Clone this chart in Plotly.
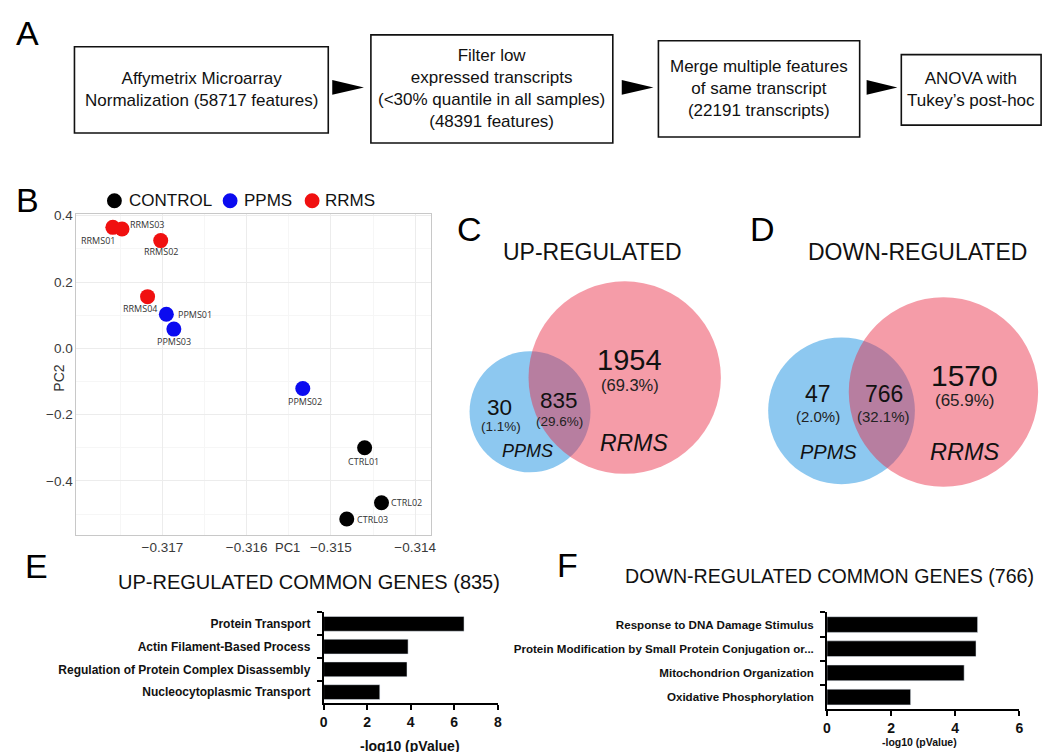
import plotly.graph_objects as go

W, H = 1050, 752


def px(x):
    return x / W


def py(y):
    return 1 - y / H


# ---------------- data ----------------
flow_steps = [
    "Affymetrix Microarray<br>Normalization (58717 features)",
    "Filter low<br>expressed transcripts<br>(&lt;30% quantile in all samples)<br>(48391 features)",
    "Merge multiple features<br>of same transcript<br>(22191 transcripts)",
    "ANOVA with<br>Tukey’s post-hoc",
]

pca_samples = ["CTRL01", "CTRL02", "CTRL03", "PPMS01", "PPMS02", "PPMS03",
               "RRMS01", "RRMS02", "RRMS03", "RRMS04"]
pca_group = ["CONTROL"] * 3 + ["PPMS"] * 3 + ["RRMS"] * 4
pc1 = [-0.314600, -0.314400, -0.314812, -0.316953, -0.315334, -0.316864,
       -0.317588, -0.317020, -0.317479, -0.317176]
pc2 = [-0.300, -0.466, -0.515, 0.103, -0.121, 0.058,
       0.365, 0.325, 0.360, 0.156]
group_names = ["CONTROL", "PPMS", "RRMS"]
group_colors = ["#000000", "#0b0bf0", "#f01010"]

venn_sets = ["PPMS", "RRMS"]
up_counts = [30, 835, 1954]
up_pct = [1.1, 29.6, 69.3]
down_counts = [47, 766, 1570]
down_pct = [2.0, 32.1, 65.9]

up_terms = ["Protein Transport", "Actin Filament-Based Process",
            "Regulation of Protein Complex Disassembly", "Nucleocytoplasmic Transport"]
up_vals = [6.45, 3.88, 3.83, 2.58]
down_terms = ["Response to DNA Damage Stimulus",
              "Protein Modification by Small Protein Conjugation or...",
              "Mitochondrion Organization", "Oxidative Phosphorylation"]
down_vals = [4.70, 4.65, 4.28, 2.61]

# ---------------- fonts ----------------
ARIAL = "Liberation Sans, Arial, sans-serif"
LBL = "Open Sans, DejaVu Sans, sans-serif"

fig = go.Figure()
shapes = []
ann = []


def text(x, y, s, size, family=ARIAL, color="#111", **kw):
    d = dict(x=px(x), y=py(y), xref="paper", yref="paper", text=s, showarrow=False,
             font=dict(size=size, family=family, color=color),
             xanchor=kw.pop("xanchor", "center"), yanchor=kw.pop("yanchor", "middle"))
    d.update(kw)
    ann.append(d)


# ---------------- panel A : flow chart ----------------
boxes = [(63, 33, 319, 120), (362, 21, 606, 130), (652, 27, 855, 124), (897, 41, 1038, 112)]
for (x0, y0, x1, y1), s in zip(boxes, flow_steps):
    shapes.append(dict(type="rect", xref="paper", yref="paper",
                       x0=px(x0), x1=px(x1), y0=py(y1), y1=py(y0),
                       line=dict(color="#111", width=1.6), fillcolor="white"))
    text((x0 + x1) / 2, (y0 + y1) / 2, s, 17, ARIAL, "#111")
for ax0, ax1 in [(323, 355), (615, 647), (862, 893)]:
    yc = 74
    shapes.append(dict(type="path", xref="paper", yref="paper",
                       path=f"M {px(ax0)},{py(yc - 7.5)} L {px(ax1)},{py(yc)} L {px(ax0)},{py(yc + 7.5)} Z",
                       fillcolor="#000", line=dict(width=0)))

# panel letters
for lab, x, y in [("A", 16, 19), ("B", 16, 187), ("C", 461, 217), ("D", 757, 217),
                  ("E", 25, 556), ("F", 560, 555)]:
    text(x, y, lab, 34, ARIAL, "#000")

# ---------------- panel B : PCA ----------------
for g, c in zip(group_names, group_colors):
    idx = [i for i, gg in enumerate(pca_group) if gg == g]
    fig.add_trace(go.Scatter(
        x=[pc1[i] for i in idx], y=[pc2[i] for i in idx], mode="markers", name=g,
        marker=dict(size=15, color=c), showlegend=False, xaxis="x", yaxis="y"))

label_offsets = {  # (anchor, xshift, yshift)
    "CTRL01": ("center", -1, -14), "CTRL02": ("left", 8, 0), "CTRL03": ("left", 8, 0),
    "PPMS01": ("left", 10, 0), "PPMS02": ("center", 2, -13), "PPMS03": ("center", 0, -12),
    "RRMS01": ("center", -15, -13), "RRMS02": ("center", 0, -11), "RRMS03": ("left", 6, 5),
    "RRMS04": ("center", -8, -12),
}
for s, x, y in zip(pca_samples, pc1, pc2):
    a, xs, ys = label_offsets[s]
    ann.append(dict(x=x, y=y, xref="x", yref="y", text=s, showarrow=False,
                    xanchor=a, yanchor="middle", xshift=xs, yshift=ys,
                    font=dict(size=9, family=LBL, color="#333")))

# manual legend
for (cx, tx), g, c in zip([(103.3, 116), (220, 232), (302.7, 314)], group_names, group_colors):
    shapes.append(dict(type="circle", xref="paper", yref="paper",
                       x0=px(cx - 7.5), x1=px(cx + 7.5), y0=py(188.3 + 7.5), y1=py(188.3 - 7.5),
                       fillcolor=c, line=dict(width=0)))
    text(tx, 188.5, g, 17, ARIAL, "#111", xanchor="left")

text(278, 538, "PC1", 13, ARIAL, "#333")
text(47, 367, "PC2", 14, ARIAL, "#333", textangle=-90)

axis_b = dict(showline=True, mirror=True, linecolor="#c8c8c8", linewidth=1,
              showgrid=True, gridcolor="#ececec", gridwidth=1, zeroline=False,
              ticks="", tickfont=dict(size=13.5, family=ARIAL, color="#3a3a3a"))
fig.update_layout(
    xaxis=dict(domain=[px(65), px(423)], range=[-0.31802, -0.313808],
               tickvals=[-0.317, -0.316, -0.315, -0.314],
               minor=dict(showgrid=True, gridcolor="#f6f6f6", tickvals=[-0.3175, -0.3165, -0.3155, -0.3145]),
               anchor="y", **axis_b),
    yaxis=dict(domain=[py(525), py(201.7)], range=[-0.5625, 0.405],
               tickvals=[-0.4, -0.2, 0.0, 0.2, 0.4], tickformat=".1f",
               minor=dict(showgrid=True, gridcolor="#f6f6f6", tickvals=[-0.5, -0.3, -0.1, 0.1, 0.3]),
               anchor="x", **axis_b),
)

# ---------------- panels C & D : Venn diagrams ----------------
BLUE = "rgb(141,200,240)"
RED = "rgb(233,40,66)"


def venn(blue, red, counts, pct, pos, sizes):
    (bx, by, br), (rx, ry, rr) = blue, red
    shapes.append(dict(type="circle", xref="paper", yref="paper",
                       x0=px(bx - br), x1=px(bx + br), y0=py(by + br), y1=py(by - br),
                       fillcolor=BLUE, line=dict(width=0), layer="below"))
    shapes.append(dict(type="circle", xref="paper", yref="paper",
                       x0=px(rx - rr), x1=px(rx + rr), y0=py(ry + rr), y1=py(ry - rr),
                       fillcolor=RED, opacity=0.46, line=dict(width=0), layer="below"))
    for i in range(3):
        (nx, ny), (pxx, pyy) = pos[i]
        ns, ps = sizes[i]
        text(nx, ny, str(counts[i]), ns, ARIAL, "#111")
        text(pxx, pyy, f"({pct[i]:.1f}%)", ps, ARIAL, "#222")


venn((522.5, 401, 61), (618, 366.5, 97), up_counts, up_pct,
     [((491.7, 397), (493.3, 416)), ((551.7, 390), (552.7, 411)), ((623, 349), (623, 374))],
     [(22.5, 13.5), (22.5, 13.5), (29, 16.5)])
text(520, 441, f"<i>{venn_sets[0]}</i>", 18, ARIAL, "#111")
text(627, 432, f"<i>{venn_sets[1]}</i>", 23, ARIAL, "#111")
text(586, 240, "UP-REGULATED", 23, ARIAL, "#111")

venn((836.7, 400, 74), (939.5, 381, 95.5), down_counts, down_pct,
     [((812.7, 383.3), (813.3, 405.3)), ((879.3, 383.3), (879.3, 405.3)), ((961, 364), (961, 389.3))],
     [(23, 15), (23, 15), (30, 17)])
text(823.3, 442, f"<i>{venn_sets[0]}</i>", 20, ARIAL, "#111")
text(961, 442, f"<i>{venn_sets[1]}</i>", 23.5, ARIAL, "#111")
text(913.5, 240, "DOWN-REGULATED", 23, ARIAL, "#111")

# ---------------- panels E & F : GO bars ----------------
fig.add_trace(go.Bar(x=up_vals, y=up_terms, orientation="h", marker=dict(color="#000"),
                     width=0.65, xaxis="x3", yaxis="y3", showlegend=False))
fig.add_trace(go.Bar(x=down_vals, y=down_terms, orientation="h", marker=dict(color="#000"),
                     width=0.65, xaxis="x4", yaxis="y4", showlegend=False))

bar_x = dict(showline=True, linecolor="#000", linewidth=1.6, ticks="outside", ticklen=5,
             tickwidth=1.6, tickcolor="#000", showgrid=False, zeroline=False, dtick=2,
             tickfont=dict(size=14, family=ARIAL, color="#111", weight="bold"))


def bar_y(size):
    return dict(type="category", showline=True, linecolor="#000", linewidth=1.6, ticks="outside",
                ticklen=5, tickwidth=1.6, tickcolor="#000", tickson="boundaries", showgrid=False,
                range=[3.5, -0.5], ticklabelstandoff=9,
                tickfont=dict(size=size, family=ARIAL, color="#111", weight="bold"))


fig.update_layout(
    xaxis3=dict(domain=[px(314.3), px(490)], range=[0, 8], anchor="y3", **bar_x),
    yaxis3=dict(domain=[py(695), py(603.3)], anchor="x3", **bar_y(12)),
    xaxis4=dict(domain=[px(822), px(1016)], range=[0, 6], anchor="y4", **bar_x),
    yaxis4=dict(domain=[py(700.7), py(603.3)], anchor="x4", **bar_y(11.6)),
)
text(300, 573, "UP-REGULATED COMMON GENES (835)", 20, ARIAL, "#111")
text(825, 567, "DOWN-REGULATED COMMON GENES (766)", 19.6, ARIAL, "#111")
text(401.7, 738, "<b>-log10 (pValue)</b>", 14, ARIAL, "#111")
text(915, 734, "<b>-log10 (pValue)</b>", 10.5, ARIAL, "#111")

fig.update_layout(
    width=W, height=H, margin=dict(l=0, r=0, t=0, b=0),
    paper_bgcolor="white", plot_bgcolor="white",
    shapes=shapes, annotations=ann, showlegend=False,
    bargap=0.35,
)
fig.write_html("out.html", config={"displayModeBar": False})
